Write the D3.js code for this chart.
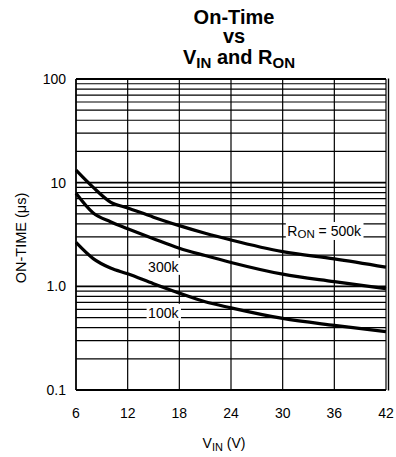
<!DOCTYPE html>
<html>
<head>
<meta charset="utf-8">
<script src="https://cdn.jsdelivr.net/npm/d3@7"></script>
<style>
  body { margin: 0; background: #fff; }
  svg text { font-family: "Liberation Sans", Arial, Helvetica, sans-serif; fill: #000; }
</style>
</head>
<body>
<svg id="chart" width="396" height="457"></svg>
<script>
// input voltage (V) sample points
var vin = [6, 8, 10, 12, 15, 18, 21, 24, 30, 36, 42];
// on-time (us) for each R_ON
var ton500k = [13.2, 9.0, 6.5, 5.7, 4.65, 3.85, 3.25, 2.8, 2.16, 1.84, 1.53];
var ton300k = [7.9, 5.1, 4.2, 3.6, 2.88, 2.33, 1.98, 1.7, 1.31, 1.11, 0.95];
var ton100k = [2.65, 1.85, 1.5, 1.32, 1.06, 0.86, 0.71, 0.62, 0.49, 0.42, 0.366];

var xTicks = [6, 12, 18, 24, 30, 36, 42];
var yTicks = [0.1, 1, 10, 100];
var yTickLabels = ["0.1", "1.0", "10", "100"];

var svg = d3.select("#chart");

var x = d3.scaleLinear().domain([6, 42]).range([76, 386]);
var y = d3.scaleLog().domain([0.1, 100]).range([390, 79]);

// log grid lines 1..9 in each decade
var minor = [];
[0.1, 1, 10].forEach(function (dec) {
    for (var k = 1; k <= 9; k++) minor.push(dec * k);
});
minor.push(100);

var grid = svg.append("g").attr("class", "grid");

grid.selectAll(".hline")
    .data(minor)
    .enter()
    .append("line")
    .attr("class", "hline")
    .attr("x1", x(6)).attr("x2", x(42))
    .attr("y1", d => y(d)).attr("y2", d => y(d))
    .attr("stroke", "#000")
    .attr("stroke-width", d => (yTicks.indexOf(d) >= 0 ? 1.8 : 1.2));

grid.selectAll(".vline")
    .data(xTicks)
    .enter()
    .append("line")
    .attr("class", "vline")
    .attr("x1", d => x(d)).attr("x2", d => x(d))
    .attr("y1", y(100)).attr("y2", y(0.1))
    .attr("stroke", "#000")
    .attr("stroke-width", d => (d == 6 ? 1.8 : 1.2));

// the right border is drawn doubled
grid.append("line")
    .attr("x1", x(42) + 2.5).attr("x2", x(42) + 2.5)
    .attr("y1", y(100) - 0.6).attr("y2", y(0.1) + 0.6)
    .attr("stroke", "#000")
    .attr("stroke-width", 1.4);

// curves
var line = d3.line()
    .x((d, i) => x(vin[i]))
    .y(d => y(d))
    .curve(d3.curveMonotoneX);

svg.append("g").attr("class", "curves")
    .selectAll("path")
    .data([ton500k, ton300k, ton100k])
    .enter()
    .append("path")
    .attr("d", line)
    .attr("fill", "none")
    .attr("stroke", "#000")
    .attr("stroke-width", 3.2)
    .attr("stroke-linejoin", "round");

// curve labels with white boxes
function boxLabel(v, t, anchor, build) {
    var g = svg.append("g");
    var txt = g.append("text")
        .attr("x", x(v))
        .attr("y", y(t))
        .attr("text-anchor", anchor)
        .style("font-size", "14px");
    build(txt);
    var bb = txt.node().getBBox();
    g.insert("rect", "text")
        .attr("x", bb.x - 1.5)
        .attr("y", bb.y - 1)
        .attr("width", bb.width + 3)
        .attr("height", bb.height + 1)
        .attr("fill", "#fff");
}

boxLabel(17.9, 1.38, "end", t => t.text("300k"));
boxLabel(17.9, 0.497, "end", t => t.text("100k"));
boxLabel(39.1, 3.06, "end", function (t) {
    t.append("tspan").text("R");
    t.append("tspan").attr("dy", 2).style("font-size", "11.5px").text("ON");
    t.append("tspan").attr("dy", -2).text(" = 500k");
});

// axis tick labels
svg.append("g").selectAll("text")
    .data(xTicks)
    .enter()
    .append("text")
    .attr("x", d => x(d))
    .attr("y", 418)
    .attr("text-anchor", "middle")
    .style("font-size", "14px")
    .text(d => d);

svg.append("g").selectAll("text")
    .data(yTicks)
    .enter()
    .append("text")
    .attr("x", 66)
    .attr("y", d => y(d) + 5)
    .attr("text-anchor", "end")
    .style("font-size", "14px")
    .text((d, i) => yTickLabels[i]);

// axis titles
var xt = svg.append("text")
    .attr("x", 224)
    .attr("y", 448)
    .attr("text-anchor", "middle")
    .style("font-size", "14px");
xt.append("tspan").text("V");
xt.append("tspan").attr("dy", 3).style("font-size", "11px").text("IN");
xt.append("tspan").attr("dy", -3).text(" (V)");

svg.append("text")
    .attr("transform", "translate(26,238) rotate(-90)")
    .attr("text-anchor", "middle")
    .style("font-size", "14.5px")
    .text("ON-TIME (\u03bcs)");

// title
var title = svg.append("g")
    .attr("text-anchor", "middle")
    .style("font-weight", "bold")
    .style("font-size", "20px");
title.append("text").attr("x", 234).attr("y", 24).text("On-Time");
title.append("text").attr("x", 234).attr("y", 43).text("vs");
var t3 = title.append("text").attr("x", 239).attr("y", 64);
t3.append("tspan").text("V");
t3.append("tspan").attr("dy", 4).style("font-size", "15px").text("IN");
t3.append("tspan").attr("dy", -4).text(" and R");
t3.append("tspan").attr("dy", 4).style("font-size", "15px").text("ON");
</script>
</body>
</html>
